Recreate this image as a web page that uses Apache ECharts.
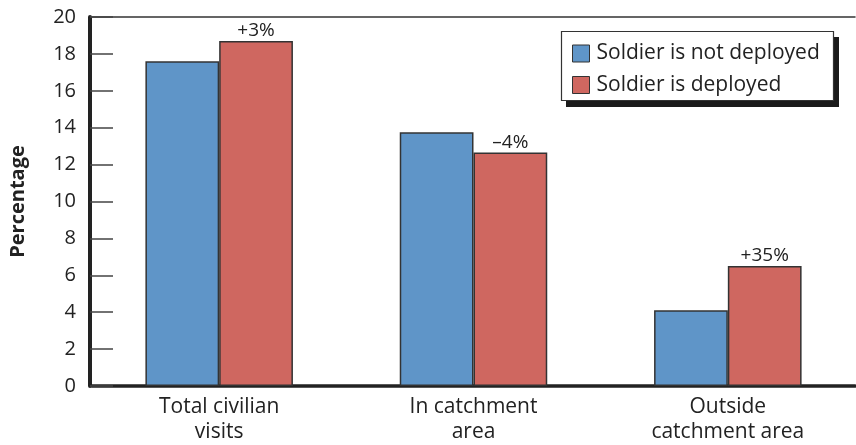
<!DOCTYPE html>
<html><head><meta charset="utf-8">
<script src="https://cdn.jsdelivr.net/npm/echarts@6/dist/echarts.min.js"></script>
<style>html,body{margin:0;padding:0;background:#fff}#c{width:856px;height:445px}</style>
</head><body><div id="c"></div>
<script>
const categories = ['Total civilian\nvisits', 'In catchment\narea', 'Outside\ncatchment area'];
const notDeployed = [17.6, 13.75, 4.1];
const deployed = [18.7, 12.65, 6.5];
const changeLabels = ['+3%', '\u20134%', '+35%'];
const yTicks = [0, 2, 4, 6, 8, 10, 12, 14, 16, 18, 20];

const FONT = '"Open Sans", "Noto Sans", sans-serif';
const chart = echarts.init(document.getElementById('c'));
chart.setOption({
  animation: false,
  textStyle: { fontFamily: FONT },
  grid: { left: 88, right: 1, top: 17, bottom: 59 },
  graphic: [
    { type: 'rect', z: 1, shape: { x: 566, y: 37, width: 273, height: 70 }, style: { fill: '#1a1a1a' } },
    { type: 'rect', z: 2, shape: { x: 561.5, y: 31.5, width: 272, height: 69 }, style: { fill: '#fff', stroke: '#333', lineWidth: 1.2 } }
  ],
  legend: {
    orient: 'vertical', left: 572, top: 43, z: 5,
    itemWidth: 17, itemHeight: 17, itemGap: 10.5,
    padding: 0, icon: 'rect',
    textStyle: { fontSize: 21, color: '#222', fontFamily: FONT, padding: [0, 0, 0, 2] },
    itemStyle: { borderColor: '#333', borderWidth: 1 },
    data: ['Soldier is not deployed', 'Soldier is deployed']
  },
  xAxis: [{
    type: 'category', data: categories,
    axisLine: { lineStyle: { color: '#222', width: 3.5 } },
    axisTick: { show: false },
    axisLabel: { fontSize: 21, color: '#222', lineHeight: 25, margin: 9, fontFamily: FONT }
  }, {
    type: 'category', data: categories, position: 'top',
    axisLine: { lineStyle: { color: '#333', width: 1.5 } },
    axisTick: { show: false }, axisLabel: { show: false }
  }],
  yAxis: {
    type: 'value', min: yTicks[0], max: yTicks[yTicks.length - 1], interval: 2, offset: 2,
    name: 'Percentage', nameLocation: 'middle', nameGap: 62, nameRotate: 90,
    nameTextStyle: { fontSize: 20, fontWeight: 'bold', color: '#222', fontFamily: FONT },
    axisLine: { show: true, lineStyle: { color: '#222', width: 4 } },
    axisTick: { show: true, inside: true, length: 23, lineStyle: { color: '#444', width: 1.5 } },
    axisLabel: { fontSize: 20, color: '#222', margin: 14, fontFamily: FONT },
    splitLine: { show: false }
  },
  series: [
    {
      name: 'Soldier is not deployed', type: 'bar', data: notDeployed,
      barGap: '0%', barCategoryGap: '42%',
      itemStyle: { color: '#5f95c8', borderColor: '#333', borderWidth: 1.5 }
    },
    {
      name: 'Soldier is deployed', type: 'bar', data: deployed,
      barGap: '0%', barCategoryGap: '42%',
      itemStyle: { color: '#cf6760', borderColor: '#333', borderWidth: 1.5 },
      label: {
        show: true, position: 'top', distance: 1, fontSize: 19, color: '#222', fontFamily: FONT,
        formatter: p => changeLabels[p.dataIndex]
      }
    }
  ]
});
</script></body></html>
